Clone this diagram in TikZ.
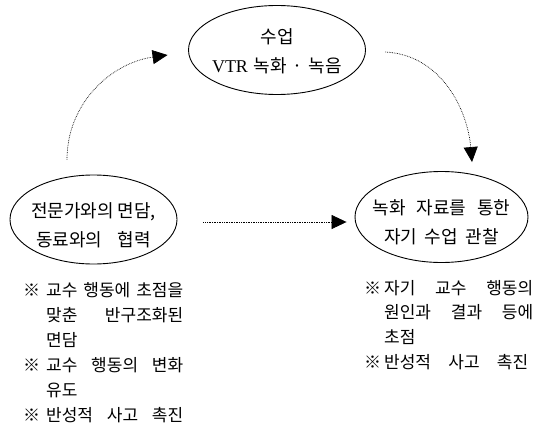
\documentclass[tikz,border=0pt]{standalone}
\usepackage{fontspec}
\setmainfont{Liberation Serif}
\newfontfamily\kr{Noto Sans CJK KR}
\usetikzlibrary{shapes.geometric,arrows.meta,calc}
\begin{document}
\begin{tikzpicture}[x=1pt,y=1pt,
  oval/.style={ellipse,draw,line width=0.9pt,inner sep=0pt},
  ovaltext/.style={inner sep=0pt,align=center,font=\kr\fontsize{18}{29}\selectfont},
  flow/.style={densely dotted,line width=0.7pt,-{Triangle[length=15pt,width=14pt]}},
  item/.style={anchor=base west,inner sep=0pt,font=\kr\fontsize{17}{25}\selectfont}]
\useasboundingbox (0,0) rectangle (534,429);
% ovals
\node[oval,minimum width=177pt,minimum height=89pt] (rec) at (277,379) {};
\node[ovaltext] (rect) at ($(rec.center)+(0,-1)$) {수업\\\makebox[130pt][s]{{\rmfamily VTR} 녹화 · 녹음}};
\node[oval,minimum width=167pt,minimum height=89pt] (disc) at (93.5,209.5) {};
\node[ovaltext] (disct) at ($(disc.center)+(0,-6)$) {전문가와의 면담,\\\makebox[115pt][s]{동료와의 협력}};
\node[oval,minimum width=173pt,minimum height=91pt] (obs) at (441.5,212) {};
\node[ovaltext] (obst) at ($(obs.center)+(0,-5)$) {\makebox[138pt][s]{녹화 자료를 통한}\\\makebox[115pt][s]{자기 수업 관찰}};
% connectors
\draw[flow] ($(disc.north)+(-26.5,15)$) to[out=90,in=188] ($(rec.west)+(-20.5,-5)$);
\draw[flow] ($(rec.east)+(19.5,-2)$) to[out=-3,in=95] ($(obs.north)+(30.5,9)$);
\draw[flow] ($(disc.east)+(26,-2.5)$) -- ($(obs.west)+(-8,-5)$);
% left notes
\node[item] (la1) at (23,133) {※};
\node[item] (l1) at (46,133) {\makebox[137pt][s]{교수 행동에 초점을}};
\node[item] (l2) at (46,108) {\makebox[137pt][s]{맞춘 반구조화된}};
\node[item] (l3) at (46,83) {면담};
\node[item] (la2) at (23,58) {※};
\node[item] (l4) at (46,58) {\makebox[137pt][s]{교수 행동의 변화}};
\node[item] (l5) at (46,33) {유도};
\node[item] (la3) at (23,8) {※};
\node[item] (l6) at (46,8) {\makebox[137pt][s]{반성적 사고 촉진}};
% right notes
\node[item] (ra1) at (364,135) {※};
\node[item] (r1) at (384,135) {\makebox[149pt][s]{자기 교수 행동의}};
\node[item] (r2) at (384,111) {\makebox[149pt][s]{원인과 결과 등에}};
\node[item] (r3) at (384,86) {초점};
\node[item] (ra2) at (364,61) {※};
\node[item] (r4) at (384,61) {\makebox[144pt][s]{반성적 사고 촉진}};
\end{tikzpicture}
\end{document}
